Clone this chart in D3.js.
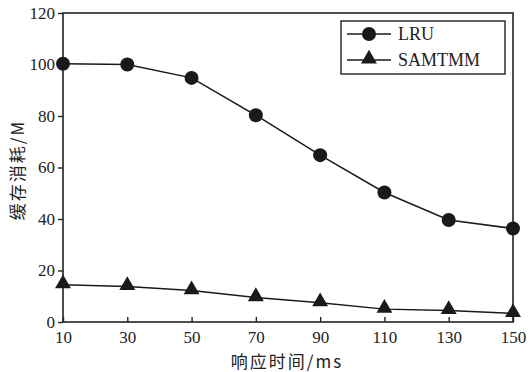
<!DOCTYPE html>
<html>
<head>
<style>
  html, body { margin: 0; padding: 0; background: #fff; }
</style>
</head>
<body>
<script src="https://d3js.org/d3.v7.min.js"></script>
<script>
  var times = [10, 30, 50, 70, 90, 110, 130, 150];
  var lruValues = [100.3, 100, 94.8, 80.3, 64.8, 50.3, 39.6, 36.3];
  var samtmmValues = [14.5, 13.8, 12.2, 9.5, 7.5, 5.0, 4.5, 3.3];
  var yTicks = [0, 20, 40, 60, 80, 100, 120];
  var seriesNames = ["LRU", "SAMTMM"];

  var serif = "'Liberation Serif', 'DejaVu Serif', serif";
  var cjk = "'Noto Sans CJK SC', 'Liberation Serif', serif";

  var width = 530, height = 372;
  var margin = {top: 13, right: 17, bottom: 50, left: 63};

  var svg = d3.select("body").append("svg")
    .attr("width", width)
    .attr("height", height);

  var x = d3.scaleLinear().domain([10, 150]).range([margin.left, width - margin.right]);
  var y = d3.scaleLinear().domain([0, 120]).range([height - margin.bottom, margin.top]);

  // frame
  svg.append("rect")
    .attr("x", x(10)).attr("y", y(120))
    .attr("width", x(150) - x(10)).attr("height", y(0) - y(120))
    .attr("fill", "none").attr("stroke", "#222").attr("stroke-width", 1.6);

  // x axis, ticks inward
  var xAxis = svg.append("g")
    .attr("transform", "translate(0," + y(0) + ")")
    .call(d3.axisBottom(x).tickValues(times).tickSizeInner(-5).tickSizeOuter(0).tickPadding(9));
  xAxis.select(".domain").remove();
  xAxis.selectAll("line").attr("stroke", "#222").attr("stroke-width", 1.4);
  xAxis.selectAll("text").style("font-family", serif).style("font-size", "17px").attr("fill", "#222");

  // y axis, ticks outward
  var yAxis = svg.append("g")
    .attr("transform", "translate(" + x(10) + ",0)")
    .call(d3.axisLeft(y).tickValues(yTicks).tickSizeInner(5).tickSizeOuter(0).tickPadding(3));
  yAxis.select(".domain").remove();
  yAxis.selectAll("line").attr("stroke", "#222").attr("stroke-width", 1.4);
  yAxis.selectAll("text").style("font-family", serif).style("font-size", "17px").attr("fill", "#222");

  // axis titles
  svg.append("text")
    .attr("x", 287).attr("y", 368)
    .attr("text-anchor", "middle")
    .style("font-size", "17px")
    .style("letter-spacing", "2px")
    .style("font-family", cjk)
    .attr("fill", "#222")
    .text("响应时间/ms");

  svg.append("text")
    .attr("transform", "translate(24,170) rotate(-90)")
    .attr("text-anchor", "middle")
    .style("font-size", "17px")
    .style("letter-spacing", "2px")
    .style("font-family", cjk)
    .attr("fill", "#222")
    .text("缓存消耗/M");

  var line = d3.line()
    .x(function(d, i) { return x(times[i]); })
    .y(function(d) { return y(d); });

  var triangle = d3.symbol().type(d3.symbolTriangle).size(110);

  // LRU
  svg.append("path").datum(lruValues)
    .attr("d", line).attr("fill", "none").attr("stroke", "#1a1a1a").attr("stroke-width", 1.5);
  svg.selectAll(".lru").data(lruValues).enter().append("circle")
    .attr("class", "lru")
    .attr("cx", function(d, i) { return x(times[i]); })
    .attr("cy", function(d) { return y(d); })
    .attr("r", 7)
    .attr("fill", "#1a1a1a");

  // SAMTMM
  svg.append("path").datum(samtmmValues)
    .attr("d", line).attr("fill", "none").attr("stroke", "#1a1a1a").attr("stroke-width", 1.5);
  svg.selectAll(".sam").data(samtmmValues).enter().append("path")
    .attr("class", "sam")
    .attr("d", triangle)
    .attr("transform", function(d, i) { return "translate(" + x(times[i]) + "," + (y(d) - 1) + ")"; })
    .attr("fill", "#1a1a1a");

  // legend
  var legend = svg.append("g");
  legend.append("rect")
    .attr("x", 341).attr("y", 21).attr("width", 164).attr("height", 53)
    .attr("fill", "#fff").attr("stroke", "#222").attr("stroke-width", 1.4);

  seriesNames.forEach(function(name, i) {
    var ly = 34 + i * 26;
    legend.append("line")
      .attr("x1", 347).attr("x2", 391).attr("y1", ly).attr("y2", ly)
      .attr("stroke", "#1a1a1a").attr("stroke-width", 1.5);
    if (i === 0) {
      legend.append("circle").attr("cx", 369).attr("cy", ly).attr("r", 7).attr("fill", "#1a1a1a");
    } else {
      legend.append("path").attr("d", triangle)
        .attr("transform", "translate(369," + (ly - 1) + ")").attr("fill", "#1a1a1a");
    }
    legend.append("text")
      .attr("x", 398).attr("y", ly + 6)
      .style("font-family", serif)
      .style("font-size", "18px")
      .attr("fill", "#222")
      .text(name);
  });
</script>
</body>
</html>
